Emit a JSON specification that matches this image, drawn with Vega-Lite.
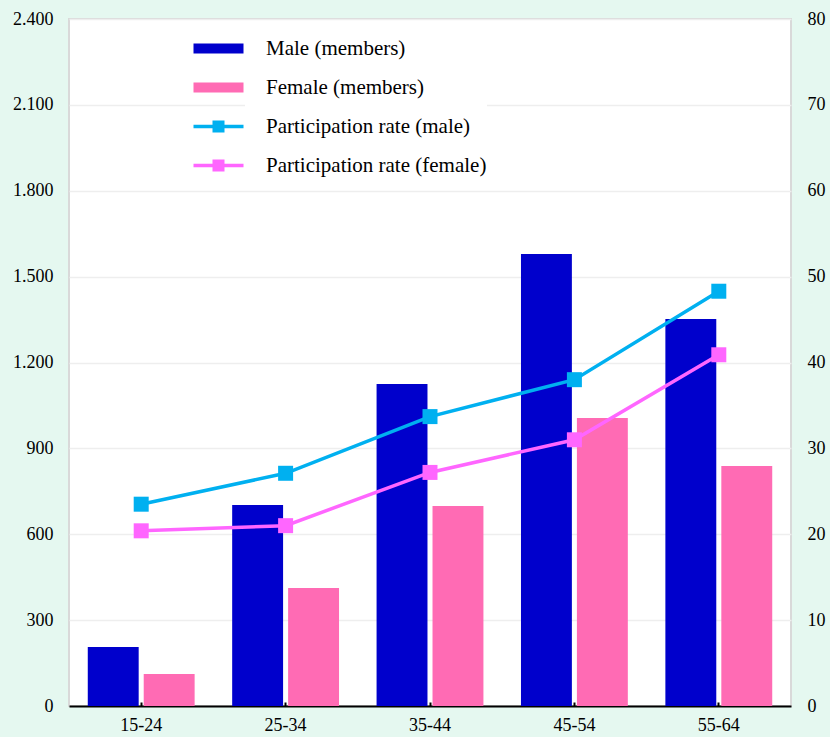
{
  "$schema": "https://vega.github.io/schema/vega-lite/v6.json",
  "width": 722,
  "height": 687,
  "autosize": "none",
  "padding": {"left": 69, "top": 19, "right": 39, "bottom": 31},
  "background": "#e5f8f0",
  "config": {
    "view": {"fill": "white", "stroke": "#d9d9d9", "strokeWidth": 2},
    "axis": {"labelFont": "Liberation Serif", "labelFontSize": 18, "labelColor": "black", "titleFont": "Liberation Serif"},
    "legend": {
      "title": null, "orient": "none", "legendX": 176, "legendY": 19,
      "symbolSize": 400, "symbolStrokeWidth": 0, "symbolOpacity": 1,
      "labelFontSize": 21, "labelFont": "Liberation Serif", "labelColor": "black", "labelLimit": 400,
      "labelOffset": 0, "rowPadding": 17, "padding": 0, "fillColor": "white"
    }
  },
  "data": {
    "values": [
      {"age": "15-24", "kind": "members", "series": "Male (members)", "value": 206},
      {"age": "25-34", "kind": "members", "series": "Male (members)", "value": 702},
      {"age": "35-44", "kind": "members", "series": "Male (members)", "value": 1125},
      {"age": "45-54", "kind": "members", "series": "Male (members)", "value": 1579},
      {"age": "55-64", "kind": "members", "series": "Male (members)", "value": 1352},
      {"age": "15-24", "kind": "members", "series": "Female (members)", "value": 112},
      {"age": "25-34", "kind": "members", "series": "Female (members)", "value": 412},
      {"age": "35-44", "kind": "members", "series": "Female (members)", "value": 699},
      {"age": "45-54", "kind": "members", "series": "Female (members)", "value": 1006},
      {"age": "55-64", "kind": "members", "series": "Female (members)", "value": 838},
      {"age": "15-24", "kind": "rate", "series": "Participation rate (male)", "value": 23.5},
      {"age": "25-34", "kind": "rate", "series": "Participation rate (male)", "value": 27.1},
      {"age": "35-44", "kind": "rate", "series": "Participation rate (male)", "value": 33.7},
      {"age": "45-54", "kind": "rate", "series": "Participation rate (male)", "value": 38.0},
      {"age": "55-64", "kind": "rate", "series": "Participation rate (male)", "value": 48.3},
      {"age": "15-24", "kind": "rate", "series": "Participation rate (female)", "value": 20.4},
      {"age": "25-34", "kind": "rate", "series": "Participation rate (female)", "value": 21.0},
      {"age": "35-44", "kind": "rate", "series": "Participation rate (female)", "value": 27.2},
      {"age": "45-54", "kind": "rate", "series": "Participation rate (female)", "value": 31.0},
      {"age": "55-64", "kind": "rate", "series": "Participation rate (female)", "value": 40.9}
    ]
  },
  "encoding": {
    "x": {
      "field": "age", "type": "nominal", "sort": null,
      "scale": {"paddingInner": 0.26, "paddingOuter": 0.13},
      "axis": {
        "title": null, "labelAngle": 0, "domainColor": "black", "domainWidth": 2,
        "tickColor": "black", "tickWidth": 2, "tickSize": -4, "labelPadding": 14, "grid": false
      }
    },
    "color": {
      "field": "series", "type": "nominal",
      "scale": {
        "domain": ["Male (members)", "Female (members)", "Participation rate (male)", "Participation rate (female)"],
        "range": ["#0000cc", "#ff6bb4", "#00b0f0", "#ff66ff"]
      }
    }
  },
  "layer": [
    {
      "transform": [{"filter": "datum.kind == 'members'"}],
      "mark": {"type": "bar"},
      "encoding": {
        "xOffset": {"field": "series", "type": "nominal", "sort": ["Male (members)", "Female (members)"], "scale": {"paddingInner": 0.09, "paddingOuter": 0}},
        "y": {
          "field": "value", "type": "quantitative",
          "scale": {"domain": [0, 2400], "nice": false},
          "axis": {
            "orient": "left", "title": null, "values": [0, 300, 600, 900, 1200, 1500, 1800, 2100, 2400],
            "domain": false, "ticks": false, "labelPadding": 16, "grid": true, "gridColor": "#eeeeee", "gridWidth": 1.5,
            "labelExpr": "replace(format(datum.value, ','), ',', '.')"
          }
        }
      }
    },
    {
      "transform": [{"filter": "datum.kind == 'rate'"}],
      "encoding": {
        "y": {
          "field": "value", "type": "quantitative",
          "scale": {"domain": [0, 80], "nice": false},
          "axis": {
            "orient": "right", "title": null, "values": [0, 10, 20, 30, 40, 50, 60, 70, 80],
            "domain": false, "ticks": false, "labelPadding": 16, "grid": false
          }
        }
      },
      "layer": [
        {
          "mark": {"type": "line", "strokeWidth": 3.5}
        },
        {
          "mark": {"type": "point", "shape": "square", "filled": true, "size": 225, "opacity": 1}
        },
        {
          "mark": {"type": "point", "filled": true, "opacity": 0, "size": 400},
          "encoding": {
            "shape": {
              "field": "series", "type": "nominal",
              "scale": {
                "domain": ["Male (members)", "Female (members)", "Participation rate (male)", "Participation rate (female)"],
                "range": [
                  "M-6.2,-0.5H-1.2V0.5H-6.2Z",
                  "M-6.2,-0.5H-1.2V0.5H-6.2Z",
                  "M-6.2,-0.17H-4.3V-0.6H-3.1V-0.17H-1.2V0.17H-3.1V0.6H-4.3V0.17H-6.2Z",
                  "M-6.2,-0.17H-4.3V-0.6H-3.1V-0.17H-1.2V0.17H-3.1V0.6H-4.3V0.17H-6.2Z"
                ]
              }
            }
          }
        }
      ]
    }
  ],
  "resolve": {"scale": {"y": "independent"}}
}
